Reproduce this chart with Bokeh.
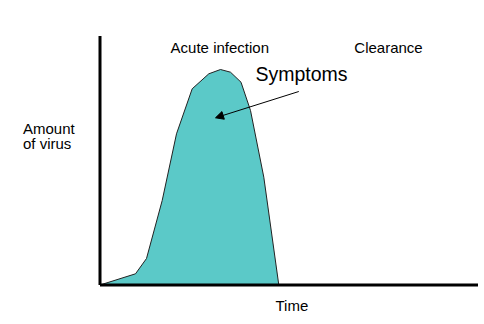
from bokeh.plotting import figure
from bokeh.models import Range1d, Label, Arrow, NormalHead
from bokeh.embed import file_html
from bokeh.resources import INLINE

# Time (relative units) and amount of virus (relative units)
time = [0, 35.5, 46.5, 62.2, 76.5, 92.2, 108.8, 120.5, 130.5, 141.0, 150.5, 163.8, 178.8]
virus = [0, 11.2, 26.5, 84.5, 151.2, 196.2, 211.2, 215.5, 212.8, 202.8, 174.5, 107.8, 0]

# extent of the drawn axes (same relative units)
time_axis_max = 378
virus_axis_max = 249

phase_labels = ["Acute infection", "Clearance"]
y_label = ["Amount", "of virus"]
x_label = "Time"
note_label = "Symptoms"

FONT = "Liberation Sans"

p = figure(width=484, height=324, output_backend="svg", toolbar_location=None,
           x_axis_type=None, y_axis_type=None,
           x_range=Range1d(-99.5, 384.5), y_range=Range1d(-39.5, 284.5),
           min_border_left=0, min_border_right=0, min_border_top=0, min_border_bottom=0)
p.grid.visible = False
p.outline_line_color = None
p.background_fill_color = "white"
p.border_fill_color = "white"

p.patch(time, virus, fill_color="#5BC9C8", line_color="#222222", line_width=1)

# axes lines
p.line([0, 0], [0, virus_axis_max], line_color="black", line_width=3)
p.line([0, time_axis_max], [0, 0], line_color="black", line_width=3)

dy = 8.5
p.add_layout(Label(x=119.8, y=228.8 + dy, text=phase_labels[0], text_align="center",
                   text_baseline="alphabetic", text_font=FONT, text_font_size="15px",
                   text_color="black"))
p.add_layout(Label(x=288.5, y=228.8 + dy, text=phase_labels[1], text_align="center",
                   text_baseline="alphabetic", text_font=FONT, text_font_size="15px",
                   text_color="black"))
p.add_layout(Label(x=155.5, y=202.8 + dy, text=note_label, text_align="left",
                   text_baseline="alphabetic", text_font=FONT, text_font_size="19.5px",
                   text_color="black"))
p.add_layout(Label(x=-77, y=148.5 + dy, text=y_label[0], text_align="left",
                   text_baseline="alphabetic", text_font=FONT, text_font_size="15px",
                   text_color="black"))
p.add_layout(Label(x=-77, y=133.5 + dy, text=y_label[1], text_align="left",
                   text_baseline="alphabetic", text_font=FONT, text_font_size="15px",
                   text_color="black"))
p.add_layout(Label(x=175.5, y=-28.5 + dy, text=x_label, text_align="left",
                   text_baseline="alphabetic", text_font=FONT, text_font_size="15px",
                   text_color="black"))

p.add_layout(Arrow(x_start=198.8, y_start=193.5, x_end=115.5, y_end=167.2,
                   line_color="black", line_width=1,
                   end=NormalHead(size=8, fill_color="black", line_color="black", line_width=1)))

open("out.html", "w").write(file_html(p, INLINE))
